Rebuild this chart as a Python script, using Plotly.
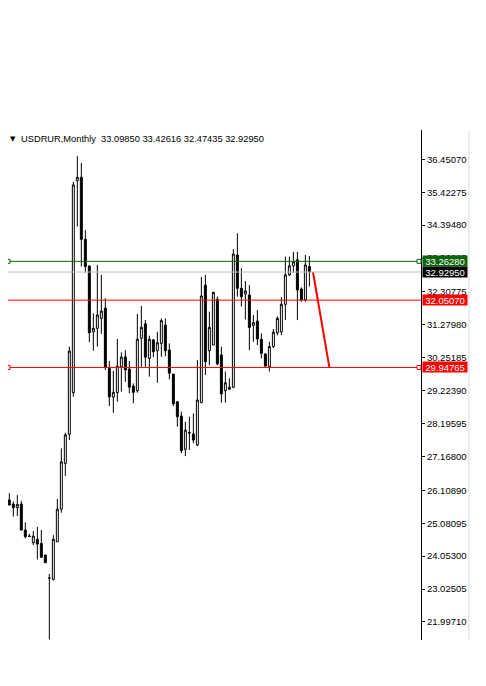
import plotly.graph_objects as go

# Monthly USDRUR candles
opens = [25.81, 25.68, 25.57, 25.68, 24.87, 24.68, 24.47, 24.58, 24.45, 24.09,
         23.36, 23.33, 24.50, 25.52, 26.95, 27.86, 29.16, 35.78, 35.89, 33.95,
         33.12, 31.06, 31.17, 31.48, 31.80, 29.92, 29.02, 29.16, 29.97, 30.28,
         29.90, 29.37, 29.22, 30.86, 31.31, 30.23, 30.81, 30.47, 30.70, 31.27,
         30.49, 29.74, 28.88, 28.43, 27.39, 27.92, 27.87, 27.53, 28.85, 32.52,
         30.47, 30.65, 32.08, 30.34, 29.22, 29.33, 29.33, 33.46, 32.42, 32.24,
         32.21, 31.26, 31.40, 30.83, 30.37, 29.97, 30.60, 31.03, 31.06, 31.92,
         32.84, 33.12, 33.31, 32.40, 32.06, 33.09850]
highs = [26.02, 25.76, 25.96, 25.78, 25.11, 24.75, 24.84, 24.97, 24.87, 24.09,
         23.50, 24.71, 25.84, 27.42, 27.91, 30.60, 35.75, 36.55, 36.34, 34.24,
         33.12, 31.64, 33.15, 32.84, 32.11, 30.15, 29.84, 30.84, 30.42, 30.49,
         30.15, 29.45, 31.62, 31.87, 31.43, 30.94, 30.83, 31.06, 31.48, 31.48,
         30.70, 29.74, 28.88, 28.57, 28.25, 28.41, 28.51, 30.18, 32.78, 32.84,
         31.69, 32.32, 32.16, 30.60, 29.82, 29.61, 33.64, 34.14, 33.05, 32.65,
         32.52, 31.59, 31.74, 31.01, 30.39, 30.75, 31.15, 31.55, 32.15, 33.41,
         33.41, 33.56, 33.56, 32.45, 33.46, 33.42616]
lows = [25.65, 25.29, 25.31, 24.85, 24.61, 24.66, 24.40, 23.95, 24.00, 23.85,
        21.45, 23.29, 24.50, 25.41, 26.56, 27.68, 29.03, 34.35, 33.10, 32.91,
        30.74, 30.47, 30.60, 31.00, 29.87, 28.74, 28.53, 28.88, 29.19, 29.50,
        29.14, 28.83, 29.16, 29.97, 29.97, 29.66, 30.27, 29.47, 30.28, 30.30,
        29.58, 28.74, 28.10, 27.27, 27.18, 27.37, 27.58, 27.49, 28.83, 29.71,
        30.02, 30.65, 30.02, 28.85, 28.85, 29.24, 29.30, 32.16, 31.85, 31.45,
        30.49, 30.75, 30.65, 30.23, 29.97, 29.82, 30.55, 30.95, 30.96, 31.43,
        32.80, 32.90, 31.43, 32.00, 32.00, 32.47435]
closes = [25.65, 25.57, 25.67, 24.87, 24.66, 24.67, 24.68, 24.43, 24.02, 23.85,
          23.37, 24.58, 25.52, 27.00, 27.84, 30.46, 35.65, 35.89, 33.95, 33.10,
          31.03, 31.17, 31.59, 31.71, 29.95, 29.03, 29.17, 29.99, 30.27, 29.87,
          29.33, 29.17, 30.83, 31.20, 30.27, 30.83, 30.44, 30.72, 31.41, 30.47,
          29.77, 28.81, 28.41, 27.35, 27.99, 27.90, 27.68, 28.93, 32.18, 30.13,
          31.20, 32.29, 30.06, 29.12, 29.47, 29.27, 33.49, 32.42, 32.16, 32.34,
          31.20, 31.35, 30.84, 30.39, 29.99, 30.60, 31.05, 31.48, 31.92, 32.84,
          33.12, 33.25, 32.37, 32.06, 33.15, 32.92950]
bar_index = list(range(len(opens)))

# Price axis labels
tick_vals = [36.45070, 35.42275, 34.39480, 33.36685, 32.30775, 31.27980, 30.25185,
             29.22390, 28.19595, 27.16800, 26.10890, 25.08095, 24.05300, 23.02505, 21.99710]
tick_text = ["36.45070", "35.42275", "34.39480", "33.36685", "32.30775", "31.27980", "30.25185",
             "29.22390", "28.19595", "27.16800", "26.10890", "25.08095", "24.05300", "23.02505", "21.99710"]

# Levels
resistance = 33.26280
bid = 32.92950
level_mid = 32.05070
support = 29.94765

# Projection line
proj_x = [75.9, 80.0]
proj_y = [32.93, 29.95]

header = "USDRUR,Monthly  33.09850 33.42616 32.47435 32.92950"

FONT = "Liberation Sans"
GREEN = "#0a640a"
RED = "#ff0000"

fig = go.Figure()
fig.add_trace(go.Candlestick(
    x=bar_index, open=opens, high=highs, low=lows, close=closes,
    increasing=dict(line=dict(color="black", width=1), fillcolor="white"),
    decreasing=dict(line=dict(color="black", width=1), fillcolor="black"),
    showlegend=False, hoverinfo="skip"))
fig.add_trace(go.Scatter(x=proj_x, y=proj_y, mode="lines",
                         line=dict(color=RED, width=2), showlegend=False, hoverinfo="skip"))

shapes = []
for val, col in [(resistance, GREEN), (bid, "#c0c0c0"), (level_mid, RED), (support, RED)]:
    shapes.append(dict(type="line", xref="paper", x0=0, x1=1, yref="y", y0=val, y1=val,
                       line=dict(color=col, width=1), layer="above"))
for val, col in [(resistance, GREEN), (support, RED)]:
    shapes.append(dict(type="rect", xref="paper", xsizemode="pixel", xanchor=1, x0=-4, x1=0,
                       yref="y", ysizemode="pixel", yanchor=val, y0=-2, y1=2,
                       line=dict(color=col, width=1), fillcolor="white", layer="above"))
    shapes.append(dict(type="rect", xref="paper", xsizemode="pixel", xanchor=0, x0=-1, x1=2,
                       yref="y", ysizemode="pixel", yanchor=val, y0=-2, y1=2,
                       line=dict(color=col, width=1), fillcolor="white", layer="above"))
# light frame line right of the price scale
shapes.append(dict(type="line", xref="paper", x0=1.1162, x1=1.1162, yref="paper", y0=0, y1=1,
                   line=dict(color="#dcdcdc", width=1)))

annotations = []
for val, bg in [(resistance, GREEN), (bid, "black"), (level_mid, RED), (support, RED)]:
    annotations.append(dict(xref="paper", x=1, xanchor="left", xshift=1, yref="y", y=val,
                            yanchor="middle", text=f"{val:.5f}", showarrow=False,
                            bgcolor=bg, font=dict(color="white", size=9.5, family=FONT),
                            width=44, height=10, borderpad=0, align="center"))
annotations.append(dict(xref="paper", x=0, xanchor="left", xshift=11, yref="paper", y=1,
                        yanchor="middle", yshift=-9, text=header, showarrow=False,
                        font=dict(color="black", size=9.3, family=FONT)))
annotations.append(dict(xref="paper", x=0, xanchor="left", xshift=0, yref="paper", y=1,
                        yanchor="middle", yshift=-9, text="▼", showarrow=False,
                        font=dict(color="black", size=7, family="DejaVu Sans")))

# page body has an 8px default margin: figure is sized so it fits the 486x686 window
fig.update_layout(
    width=478, height=678,
    margin=dict(l=0, r=65, t=122, b=46),
    paper_bgcolor="white", plot_bgcolor="white",
    shapes=shapes, annotations=annotations,
    showlegend=False,
    xaxis=dict(range=[-0.33, 102.9], showgrid=False, zeroline=False, showticklabels=False,
               showline=False, ticks="", rangeslider=dict(visible=False), fixedrange=True),
    yaxis=dict(range=[21.434, 37.366], side="right", showgrid=False, zeroline=False,
               showline=True, linecolor="black", linewidth=1, mirror=False,
               ticks="outside", ticklen=3, tickcolor="black",
               tickvals=tick_vals, ticktext=tick_text,
               tickfont=dict(color="black", size=9.5, family=FONT), fixedrange=True),
)

fig.write_html("out.html")
